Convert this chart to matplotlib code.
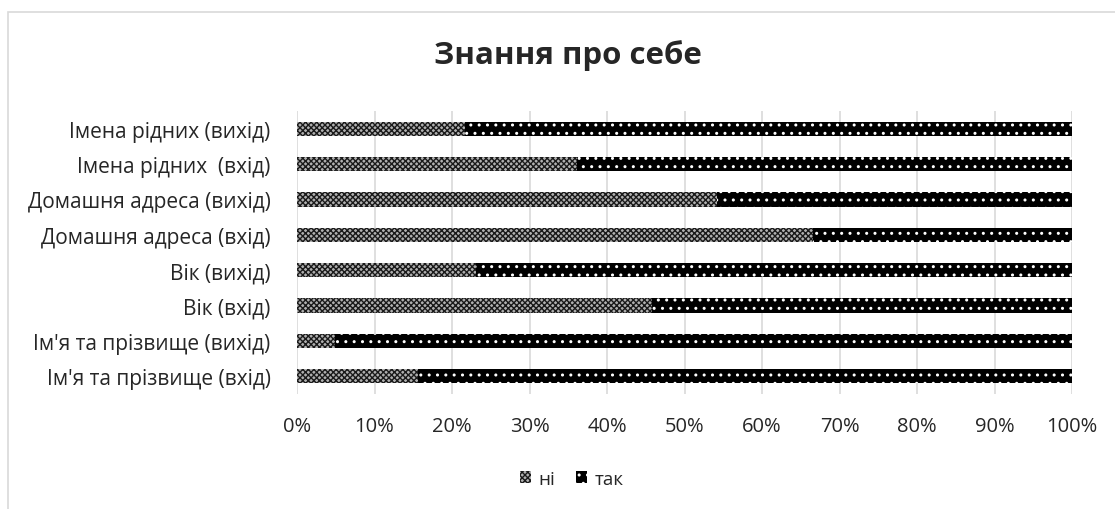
import matplotlib.pyplot as plt
from matplotlib.patches import Rectangle, Patch
from matplotlib.ticker import PercentFormatter

plt.rcParams['font.family'] = ['Open Sans', 'DejaVu Sans']
plt.rcParams['hatch.linewidth'] = 1.0

categories = ["Ім'я та прізвище (вхід)", "Ім'я та прізвище (вихід)", "Вік (вхід)", "Вік (вихід)",
              "Домашня адреса (вхід)", "Домашня адреса (вихід)", "Імена рідних  (вхід)",
              "Імена рідних (вихід)"]
ni = [15.6, 4.9, 45.8, 23.1, 66.6, 54.2, 36.1, 21.7]
tak = [100 - v for v in ni]

fig = plt.figure(figsize=(11.15, 5.1), dpi=100)
ax = fig.add_axes([297/1115, (510-395)/510, (1072-297)/1115, (395-112)/510])

y = range(len(categories))
ax.barh(y, ni, height=0.4, color='#b0b0b0', edgecolor='#1a1a1a', hatch='xxxxxx', linewidth=0, label='ні')
ax.barh(y, tak, left=ni, height=0.4, color='black', edgecolor='white', hatch='..', linewidth=0, label='так')

ax.set_xlim(0, 100)
ax.set_ylim(-0.5, len(categories) - 0.5)
ax.set_yticks(list(y))
ax.set_yticklabels(categories, fontsize=15, color='#262626')
ax.set_xticks(range(0, 101, 10))
ax.xaxis.set_major_formatter(PercentFormatter(decimals=0))
ax.tick_params(axis='x', labelsize=14.5, labelcolor='#262626', length=0, pad=16)
ax.tick_params(axis='y', length=0, pad=19)
for s in ax.spines.values():
    s.set_visible(False)
ax.grid(axis='x', color='#d9d9d9', linewidth=1.2)
ax.set_axisbelow(True)

fig.text(568/1115, 1 - 56/510, 'Знання про себе', ha='center', va='center', fontsize=22.5, fontweight='bold', color='#262626')

handles = [Patch(facecolor='#b0b0b0', edgecolor='#1a1a1a', hatch='xxxxxx', linewidth=0, label='ні'),
           Patch(facecolor='black', edgecolor='white', hatch='..', linewidth=0, label='так')]
fig.legend(handles=handles, loc='center', bbox_to_anchor=(572/1115, 1 - 480/510), ncol=2, frameon=False,
           fontsize=13.5, handlelength=0.6, handleheight=0.6, handletextpad=0.4, columnspacing=1.1,
           labelcolor='#262626')

fig.patches.append(Rectangle((8/1115, -0.1), 1.1, 1 - 13/510 + 0.1, transform=fig.transFigure,
                             fill=False, edgecolor='#d9d9d9', linewidth=1.2))

fig.savefig('out.png', dpi=100)
